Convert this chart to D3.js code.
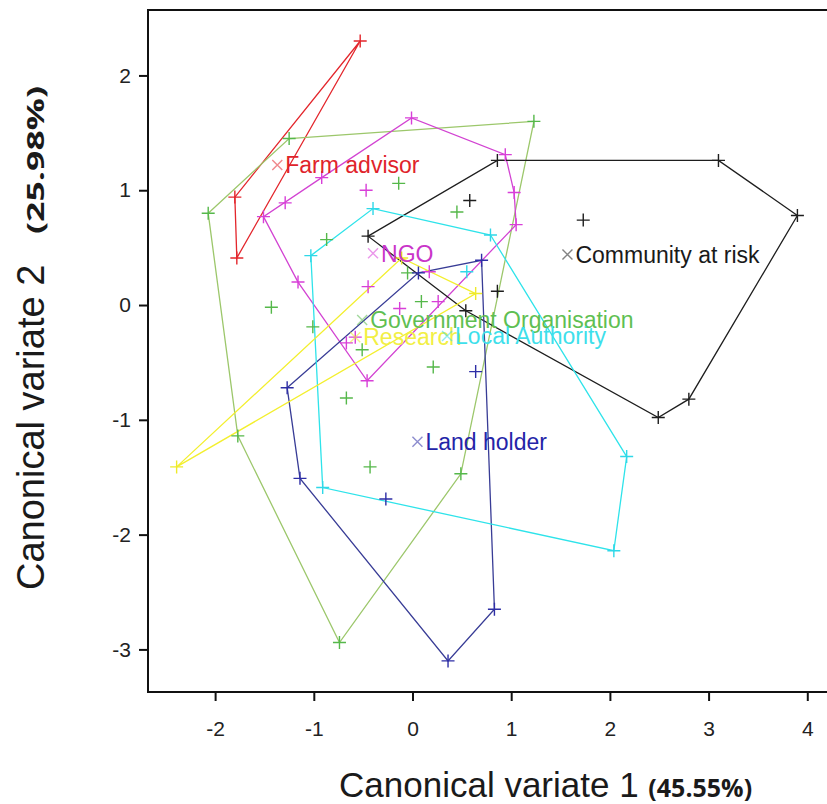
<!DOCTYPE html>
<html>
<head>
<meta charset="utf-8">
<script src="https://cdn.jsdelivr.net/npm/d3@7"></script>
<style>
  body { margin: 0; background: #fff; }
  svg { display: block; }
</style>
</head>
<body>
<div id="chart"></div>
<script>
// canonical variate scores, one array per stakeholder group [cv1, cv2]
var farmAdvisor = [[-0.53, 2.30], [-1.80, 0.94], [-1.78, 0.41]];
var govOrg = [[-2.07, 0.80], [-1.25, 1.45], [1.23, 1.60], [0.49, -1.47], [-0.74, -2.94], [-1.77, -1.14],
  [-0.14, 1.06], [0.45, 0.81], [-0.87, 0.57], [-0.05, 0.28], [-1.43, -0.02], [-1.01, -0.19],
  [0.09, 0.03], [-0.51, -0.39], [-0.67, -0.81], [0.21, -0.54], [-0.43, -1.41]];
var ngo = [[-0.01, 1.63], [0.94, 1.31], [1.03, 0.98], [1.05, 0.70], [-0.46, -0.66], [-1.16, 0.20],
  [-1.51, 0.77], [-1.29, 0.89], [-0.92, 1.11], [-0.47, 1.00], [-0.45, 0.16], [0.17, 0.29],
  [0.26, 0.03], [-0.13, -0.03], [-0.58, -0.28], [-0.67, -0.33]];
var localAuthority = [[-0.40, 0.84], [0.79, 0.61], [2.17, -1.32], [2.04, -2.14], [-0.91, -1.59],
  [-1.03, 0.43], [0.55, 0.29]];
var community = [[-0.45, 0.60], [0.86, 1.26], [3.10, 1.26], [3.90, 0.78], [2.80, -0.82], [2.49, -0.98],
  [0.54, -0.05], [0.58, 0.91], [1.73, 0.74], [0.86, 0.12]];
var landHolder = [[-1.27, -0.72], [0.06, 0.28], [0.70, 0.39], [0.83, -2.65], [0.36, -3.10],
  [-1.14, -1.51], [-0.27, -1.69], [0.64, -0.58]];
var research = [[-2.39, -1.41], [-0.11, 0.41], [0.64, 0.10]];

// group means (the x marks)
var centroids = {
  "Farm advisor": [-1.37, 1.22],
  "Government Organisation": [-0.51, -0.13],
  "NGO": [-0.40, 0.45],
  "Community at risk": [1.57, 0.44],
  "Research": [-0.58, -0.28],
  "Local Authority": [0.35, -0.27],
  "Land holder": [0.05, -1.19]
};

var xTicks = [-2, -1, 0, 1, 2, 3, 4];
var yTicks = [2, 1, 0, -1, -2, -3];

var groups = [
  {name: "Farm advisor", pts: farmAdvisor, line: "#e3262c", mark: "#e3262c", text: "#e0232b"},
  {name: "Government Organisation", pts: govOrg, line: "#9cc76b", mark: "#55b84a", text: "#5fbf52"},
  {name: "NGO", pts: ngo, line: "#d243d2", mark: "#d83fd8", text: "#c935c9"},
  {name: "Community at risk", pts: community, line: "#1e1e1e", mark: "#1e1e1e", text: "#1a1a1a"},
  {name: "Land holder", pts: landHolder, line: "#383c96", mark: "#2e2ea6", text: "#2424a8"},
  {name: "Local Authority", pts: localAuthority, line: "#2ee3ea", mark: "#2fd8e8", text: "#3fdfeb"},
  {name: "Research", pts: research, line: "#f3ef2e", mark: "#eeea2a", text: "#f2ef45"}
];
// label drawing order (Local Authority on top of Research)
var labelOrder = ["Farm advisor", "NGO", "Community at risk", "Government Organisation", "Research", "Local Authority", "Land holder"];

var width = 827, height = 804;
var mLeft = 148, mTop = 10, mRight = 829, mBottom = 692;

var svg = d3.select("#chart").append("svg")
  .attr("width", width)
  .attr("height", height)
  .style("font-family", "'Liberation Sans', Arial, sans-serif");

var x = d3.scaleLinear().domain([-2.68, 4.22]).range([mLeft, mRight]);
var y = d3.scaleLinear().domain([2.57, -3.371]).range([mTop, mBottom]);

// hulls
var line = d3.line().curve(d3.curveLinearClosed);
groups.forEach(function(g) {
  var px = g.pts.map(function(d) { return [x(d[0]), y(d[1])]; });
  var hull = d3.polygonHull(px);
  svg.append("path")
    .attr("d", line(hull))
    .attr("fill", "none")
    .attr("stroke", g.line)
    .attr("stroke-width", 1.3);
});

// points (+)
var s = 6.5;
groups.forEach(function(g) {
  svg.append("g").selectAll("path")
    .data(g.pts)
    .enter().append("path")
    .attr("d", function(d) {
      var cx = x(d[0]), cy = y(d[1]);
      return "M" + (cx - s) + "," + cy + "H" + (cx + s) + "M" + cx + "," + (cy - s) + "V" + (cy + s);
    })
    .attr("stroke", g.mark)
    .attr("stroke-width", 1.4);
});

// centroid crosses and labels
labelOrder.forEach(function(name) {
  var g = groups.find(function(d) { return d.name == name; });
  var c = centroids[name];
  var cx = x(c[0]), cy = y(c[1]), k = 5;
  svg.append("path")
    .attr("d", "M" + (cx - k) + "," + (cy - k) + "L" + (cx + k) + "," + (cy + k) +
      "M" + (cx - k) + "," + (cy + k) + "L" + (cx + k) + "," + (cy - k))
    .attr("stroke", g.mark)
    .attr("stroke-opacity", 0.55)
    .attr("stroke-width", 1.4);
  svg.append("text")
    .attr("x", cx + 8)
    .attr("y", cy)
    .attr("dy", "0.36em")
    .attr("font-size", 23)
    .attr("fill", g.text)
    .text(name);
});

// frame
svg.append("path")
  .attr("d", "M" + mRight + "," + mTop + "H" + mLeft + "V" + mBottom + "H" + mRight)
  .attr("fill", "none")
  .attr("stroke", "#111")
  .attr("stroke-width", 2);

// axes
var fmt = function(d) { return String(d); };
var xAxis = d3.axisBottom(x).tickValues(xTicks).tickSize(9).tickPadding(20).tickFormat(fmt);
var yAxis = d3.axisLeft(y).tickValues(yTicks).tickSize(9).tickPadding(8).tickFormat(fmt);

var gx = svg.append("g").attr("transform", "translate(0," + mBottom + ")").call(xAxis);
var gy = svg.append("g").attr("transform", "translate(" + mLeft + ",0)").call(yAxis);
[gx, gy].forEach(function(a) {
  a.select(".domain").remove();
  a.selectAll(".tick line").attr("stroke", "#111").attr("stroke-width", 2);
  a.selectAll(".tick text")
    .attr("font-size", 21)
    .attr("font-family", "'Liberation Sans', Arial, sans-serif")
    .attr("fill", "#222");
});

// axis titles
var xt = svg.append("text")
  .attr("x", 339)
  .attr("y", 797)
  .attr("fill", "#1a1a1a");
xt.append("tspan").attr("font-size", 35).text("Canonical variate 1 ");
xt.append("tspan").attr("font-size", 25).attr("font-weight", "bold")
  .attr("font-family", "'Open Sans', sans-serif").text("(45.55%)");

svg.append("text")
  .attr("transform", "translate(44,590) rotate(-90)")
  .attr("fill", "#1a1a1a")
  .attr("font-size", 38)
  .text("Canonical variate 2");
svg.append("text")
  .attr("transform", "translate(44,234) rotate(-90)")
  .attr("fill", "#1a1a1a")
  .attr("font-size", 23)
  .attr("font-weight", "bold")
  .attr("font-family", "'Open Sans', sans-serif")
  .attr("textLength", 148)
  .attr("lengthAdjust", "spacingAndGlyphs")
  .text("(25.98%)");
</script>
</body>
</html>
